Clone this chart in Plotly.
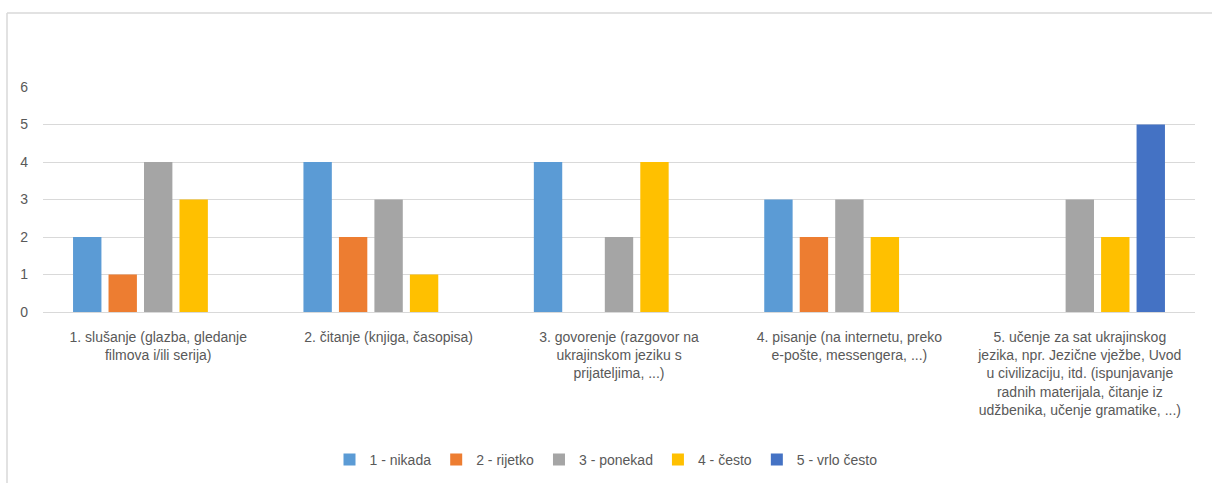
import plotly.graph_objects as go

categories = [
    "1. slušanje (glazba, gledanje<br>filmova i/ili serija)",
    "2. čitanje (knjiga, časopisa)",
    "3. govorenje (razgovor na<br>ukrajinskom jeziku s<br>prijateljima, ...)",
    "4. pisanje (na internetu, preko<br>e-pošte, messengera, ...)",
    "5. učenje za sat ukrajinskog<br>jezika, npr. Jezične vježbe, Uvod<br>u civilizaciju, itd. (ispunjavanje<br>radnih materijala, čitanje iz<br>udžbenika, učenje gramatike, ...)",
]
series_names = ["1 - nikada", "2 - rijetko", "3 - ponekad", "4 - često", "5 - vrlo često"]
nikada = [2, 4, 4, 3, 0]
rijetko = [1, 2, 0, 2, 0]
ponekad = [4, 3, 2, 3, 3]
cesto = [3, 1, 4, 2, 2]
vrlo_cesto = [0, 0, 0, 0, 5]
colors = ["#5B9BD5", "#ED7D31", "#A5A5A5", "#FFC000", "#4472C4"]

series_values = [nikada, rijetko, ponekad, cesto, vrlo_cesto]

fig = go.Figure()
for name, vals, col in zip(series_names, series_values, colors):
    fig.add_trace(go.Bar(x=categories, y=vals, name=name, marker_color=col,
                         marker_line_width=0))

W, H = 1212, 483
ml, mr, mt, mb = 43, 17, 87, 171
pw, ph = W - ml - mr, H - mt - mb

def px(x):
    return (x - ml) / pw

def py(y):
    return (H - mb - y) / ph

font_family = "Liberation Sans, Arial, sans-serif"
fig.update_layout(
    width=W, height=H,
    margin=dict(l=ml, r=mr, t=mt, b=mb, autoexpand=False),
    paper_bgcolor="white", plot_bgcolor="white",
    barmode="group", bargap=0.23, bargroupgap=0.2,
    font=dict(family=font_family, size=14, color="#595959"),
    showlegend=True,
    legend=dict(orientation="h", x=0.5, xanchor="center", xref="container",
                y=(H - 460) / H, yanchor="middle", yref="container",
                font=dict(size=14, color="#595959"), itemwidth=30, traceorder="normal"),
    xaxis=dict(showgrid=False, showline=False, tickfont=dict(size=14, color="#595959"),
               ticklabelstandoff=15, automargin=False),
    yaxis=dict(range=[0, 6], dtick=1, showgrid=True, gridcolor="#D9D9D9", gridwidth=1,
               zeroline=True, zerolinecolor="#D9D9D9", zerolinewidth=1,
               tickfont=dict(size=14, color="#595959"), ticklabelstandoff=14,
               automargin=False),
    shapes=[
        dict(type="line", xref="paper", yref="paper", x0=px(7), x1=px(1215), y0=py(13), y1=py(13),
             line=dict(color="#D9D9D9", width=1.5)),
        dict(type="line", xref="paper", yref="paper", x0=px(7), x1=px(7), y0=py(13), y1=py(490),
             line=dict(color="#D9D9D9", width=1.5)),
    ],
)

fig.write_html("out.html", config={"displayModeBar": False},
               post_script="document.body.style.margin='0px';")
